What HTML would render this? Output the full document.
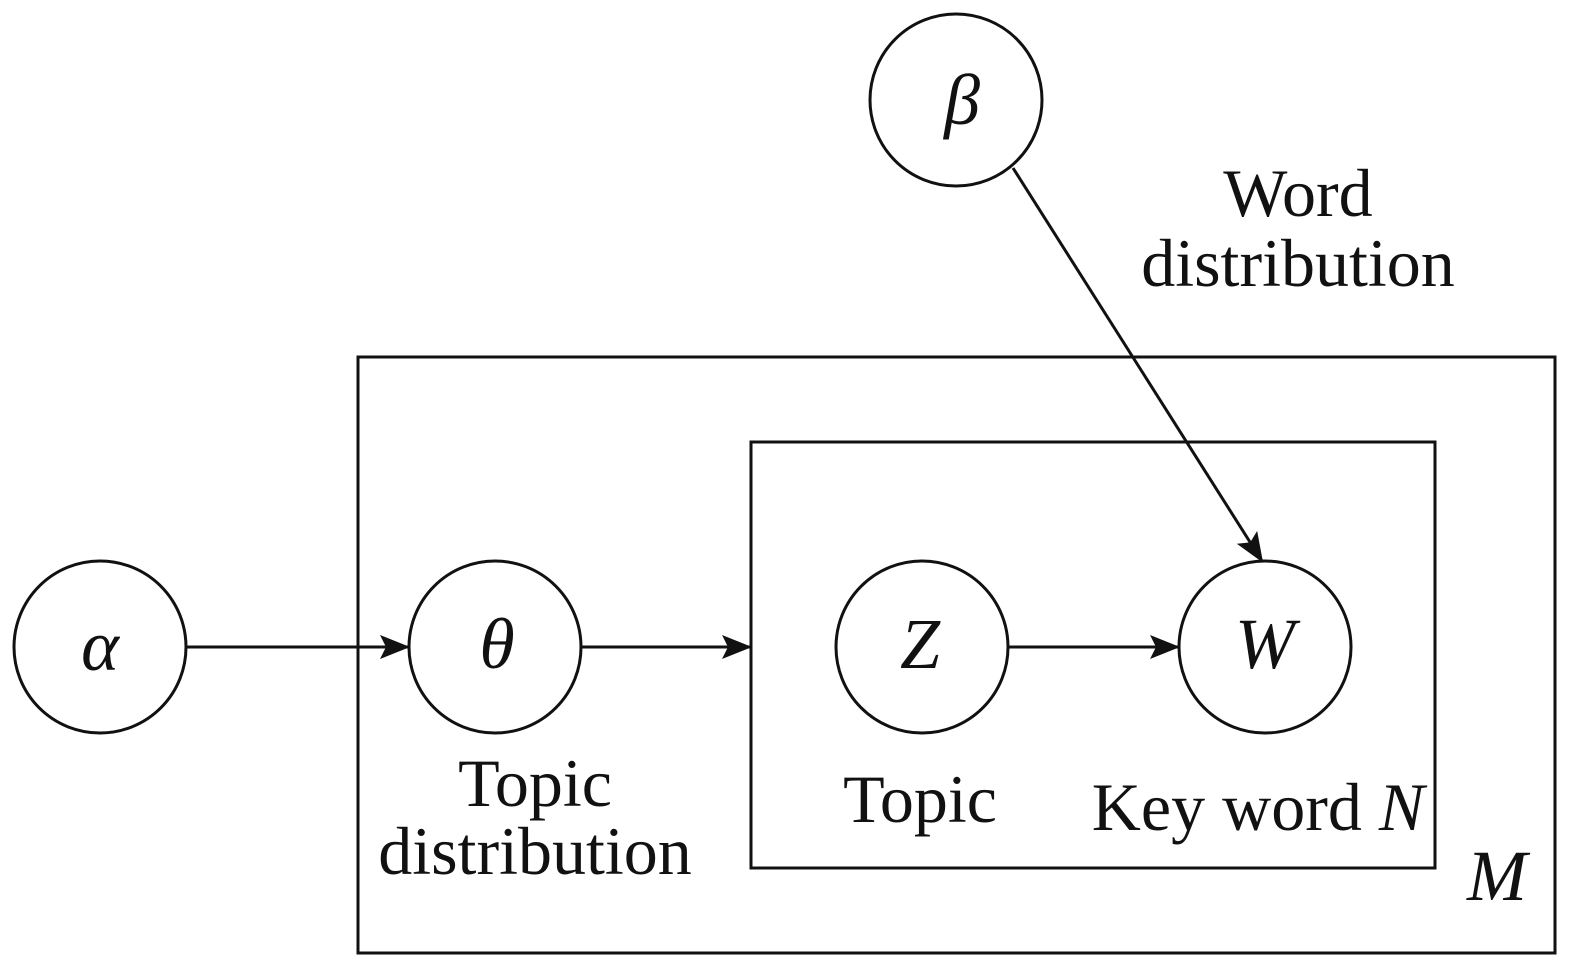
<!DOCTYPE html>
<html><head><meta charset="utf-8"><style>
html,body{margin:0;padding:0;background:#fff;}
svg{display:block}
text{font-family:"Liberation Serif",serif;fill:#111;}
</style></head><body>
<svg width="1575" height="969" viewBox="0 0 1575 969" xmlns="http://www.w3.org/2000/svg">
<defs>
<marker id="b" markerWidth="30" markerHeight="24" refX="28" refY="12" orient="auto" markerUnits="userSpaceOnUse" viewBox="0 0 30 24"><path d="M0,0 L30,12 L0,24 L6,12 Z" fill="#111"/></marker></defs>
<g fill="none" stroke="#111" stroke-width="3">
<rect x="358" y="357" width="1197" height="596"/>
<rect x="751" y="442" width="684" height="426"/>
<circle cx="100" cy="647" r="86"/>
<circle cx="495" cy="647" r="86"/>
<circle cx="922" cy="647" r="86"/>
<circle cx="1265" cy="647" r="86"/>
<circle cx="956" cy="100" r="86"/>
<line x1="187" y1="647" x2="408" y2="647" marker-end="url(#b)"/>
<line x1="582" y1="647" x2="750" y2="647" marker-end="url(#b)"/>
<line x1="1008" y1="647" x2="1178" y2="647" marker-end="url(#b)"/>
<line x1="1013" y1="168" x2="1262" y2="561" marker-end="url(#b)"/>
</g>
<g font-size="72" font-style="italic" text-anchor="middle">
<text x="100" y="670">α</text>
<text x="497" y="668">θ</text>
<text x="920" y="668">Z</text>
<text x="1265" y="668">W</text>
<text x="962" y="124">β</text>
<text x="1497" y="900">M</text>
</g>
<g font-size="68" text-anchor="middle">
<text x="1298" y="216">Word</text>
<text x="1298" y="286">distribution</text>
<text x="535" y="806">Topic</text>
<text x="535" y="874">distribution</text>
<text x="920" y="822">Topic</text>
<text x="1258" y="830">Key word <tspan font-style="italic">N</tspan></text>
</g>
</svg>
</body></html>
